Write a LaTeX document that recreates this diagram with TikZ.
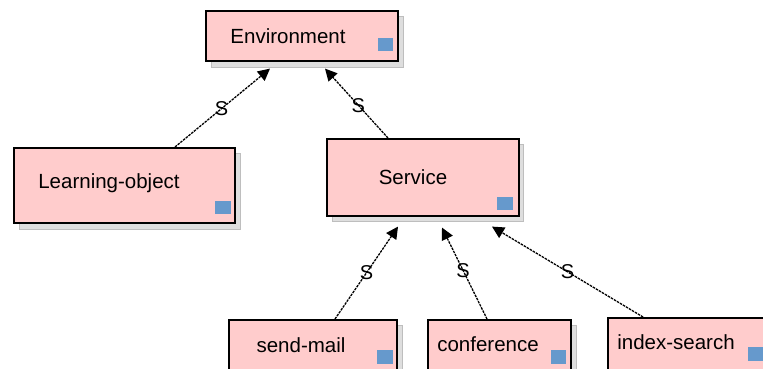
\documentclass[tikz,border=0pt]{standalone}
\usepackage{fontspec}
\setmainfont{Liberation Sans}
\usetikzlibrary{arrows.meta,calc}
\definecolor{boxpink}{RGB}{255,204,204}
\definecolor{sqblue}{RGB}{102,153,204}
\definecolor{shfill}{RGB}{222,222,222}
\definecolor{shline}{RGB}{190,190,190}
\begin{document}
\begin{tikzpicture}[x=1pt,y=-1pt,
  classbox/.style={draw=black, line width=1.6pt, fill=boxpink, rectangle, anchor=north west, inner sep=0pt},
  shadowbox/.style={fill=shfill, draw=shline, line width=0.8pt},
  sq/.style={fill=sqblue, draw=none},
  lbl/.style={font=\fontsize{20.5}{24}\selectfont, inner sep=0pt, anchor=center},
  edge/.style={draw=black, line width=1.3pt, dash pattern=on 2.5pt off 1pt, -{Triangle[length=12pt,width=12pt]}},
  slabel/.style={font=\fontsize{20}{24}\selectfont, inner sep=0pt}]
\useasboundingbox (0,0) rectangle (763,369);
\clip (0,0) rectangle (763,369);
% shadows
\filldraw[shadowbox] (211,16) rectangle (403,67);
\filldraw[shadowbox] (19,153) rectangle (240,229);
\filldraw[shadowbox] (332,144) rectangle (523,221);
\filldraw[shadowbox] (234,325) rectangle (402,390);
\filldraw[shadowbox] (433,325) rectangle (576,390);
\filldraw[shadowbox] (613,323) rectangle (780,390);
% boxes
\node[classbox, minimum width=192pt, minimum height=50pt] (env) at (205,10) {};
\node[classbox, minimum width=221pt, minimum height=75pt] (lo) at (13,147) {};
\node[classbox, minimum width=192pt, minimum height=77pt] (svc) at (326,138) {};
\node[classbox, minimum width=168pt, minimum height=60pt] (sm) at (228,319) {};
\node[classbox, minimum width=143pt, minimum height=60pt] (conf) at (427,319) {};
\node[classbox, minimum width=160pt, minimum height=62pt] (is) at (607,317) {};
% texts
\node[lbl] (envt) at (288,36) {Environment};
\node[lbl] (lot) at (109,183) {Learning-object};
\node[lbl] (svct) at (413,177) {Service};
\node[lbl] (smt) at (301,345) {send-mail};
\node[lbl] (conft) at (488,344) {conference};
\node[lbl] (ist) at (676,342) {index-search};
% blue squares
\fill[sq] (378,38) rectangle (393,51);
\fill[sq] (215,201) rectangle (231,214);
\fill[sq] (497,197) rectangle (513,210);
\fill[sq] (377,350) rectangle (393,364);
\fill[sq] (551,350) rectangle (566,364);
\fill[sq] (748,347) rectangle (764,361);
% connector ends
\coordinate (t1) at ($(env.south west)+(65,7)$);
\coordinate (t2) at ($(env.south west)+(120,7)$);
\coordinate (t3) at ($(svc.south west)+(72,10)$);
\coordinate (t4) at ($(svc.south west)+(116,11)$);
\coordinate (t5) at ($(svc.south west)+(166,10)$);
% connectors
\draw[edge] ($(lo.north west)+(162,0)$) -- node[slabel, pos=0.49] (s1) {S} (t1);
\draw[edge] ($(svc.north west)+(62,0)$) -- node[slabel, pos=0.47] (s2) {S} (t2);
\draw[edge] ($(sm.north west)+(107,0)$) -- node[slabel, pos=0.5] (s3) {S} (t3);
\draw[edge] ($(conf.north west)+(60,0)$) -- node[slabel, pos=0.53] (s4) {S} (t4);
\draw[edge] ($(is.north west)+(36,0)$) -- node[slabel, pos=0.5] (s5) {S} (t5);
\end{tikzpicture}
\end{document}
